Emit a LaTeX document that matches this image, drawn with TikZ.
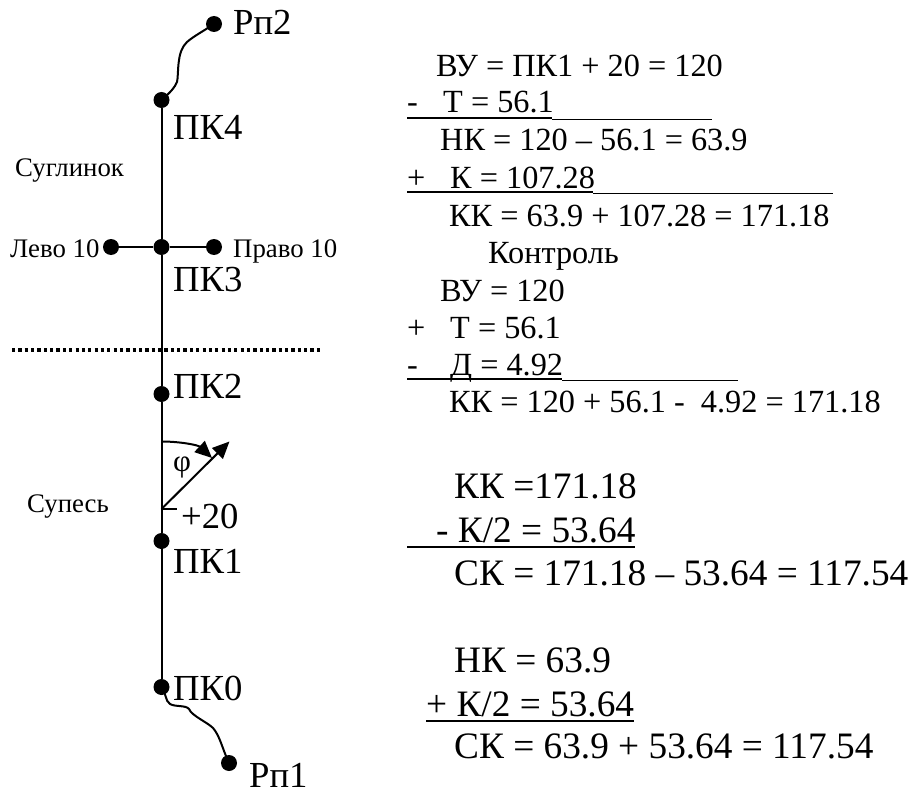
\documentclass[tikz,border=0pt]{standalone}
\usepackage{fontspec}
\setmainfont{Liberation Serif}
\usetikzlibrary{arrows.meta}
\tikzset{
  pt/.style={circle,fill=black,inner sep=0pt,minimum size=16pt},
  lbl/.style={anchor=base west,inner sep=0pt},
  big/.style={lbl,font=\fontsize{36.7}{37}\selectfont},
  mid/.style={lbl,font=\fontsize{32.3}{33}\selectfont},
  large/.style={lbl,font=\fontsize{37.3}{38}\selectfont},
  small/.style={lbl,font=\fontsize{26.8}{27}\selectfont},
  conn/.style={line width=2pt},
  heavy/.style={line width=2pt},
  thinrule/.style={line width=1pt},
  tipped/.style={line width=2pt,-{Triangle[length=17pt,width=15pt]}},
}
\begin{document}
\begin{tikzpicture}[x=1pt,y=-1pt]
\useasboundingbox (0,0) rectangle (911,789);
% points
\node[pt] (rp2) at (214,24) {};
\node[pt] (pk4) at (161.5,100) {};
\node[pt] (pk3) at (161.5,247) {};
\node[pt] (lv) at (111,247) {};
\node[pt] (pr) at (214,247) {};
\node[pt] (pk2) at (161.5,394) {};
\node[pt] (pk1) at (161.5,541) {};
\node[pt] (pk0) at (161.5,687) {};
\node[pt] (rp1) at (229,763) {};
\coordinate (vx) at (161.5,509);
\coordinate (tick) at (177,509);
\coordinate (dirn) at (229.5,441.5);
\coordinate (arcs) at (161.5,441.5);
\coordinate (arce) at (212,458);
\coordinate (dl) at (12,350);
\coordinate (dr) at (323,350);
% connectors
\draw[conn] (pk4) -- (pk3) -- (pk2) -- (pk1) -- (pk0);
\draw[conn] (lv) -- (pk3) -- (pr);
\draw[line width=3.2pt,dash pattern=on 3.2pt off 3.15pt] (dl) -- (dr);
\draw[conn] (pk4.center) .. controls (170,93) and (175,87) .. (177,82)
  .. controls (179,74) and (176,52) .. (187,42) .. controls (194,36) and (202,32) .. (rp2.center);
\draw[conn] (pk0.center) .. controls (166,692) and (165,701) .. (170,704)
  .. controls (175,707) and (186,705) .. (189,709)
  .. controls (192,716) and (207,722) .. (213,728)
  .. controls (220,736) and (222,748) .. (rp1.center);
\draw[tipped] (vx) -- (dirn);
\draw[conn] (vx) -- (tick);
\draw[tipped] (arcs) .. controls (180,441.5) and (198,445) .. (arce);
% left labels
\node[big] (trp2) at (233,35) {Рп2};
\node[big] (tpk4) at (173,140) {ПК4};
\node[small] (tsug) at (15,177) {Суглинок};
\node[small] (tlv) at (10,258) {Лево 10};
\node[small] (tpr) at (233,258) {Право 10};
\node[big] (tpk3) at (173,291) {ПК3};
\node[big] (tpk2) at (173,398) {ПК2};
\node[lbl,font=\fontsize{31}{31}\selectfont] (tphi) at (173,471) {φ};
\node[small] (tsup) at (27,512) {Супесь};
\node[big] (tp20) at (181,528) {+20};
\node[big] (tpk1) at (173,573) {ПК1};
\node[big] (tpk0) at (173,700) {ПК0};
\node[big] (trp1) at (249,787) {Рп1};
% right computations
\node[mid] (l1) at (436,77) {ВУ = ПК1 + 20 = 120};
\node[mid] (l2a) at (407,113) {-};
\node[mid] (l2) at (443,113) {Т = 56.1};
\draw[heavy] (407,118) -- (552,118);
\draw[thinrule] (552,119.5) -- (712,119.5);
\node[mid] (l3) at (440,151) {НК = 120 – 56.1 = 63.9};
\node[mid] (l4a) at (407,189) {+};
\node[mid] (l4) at (450,189) {К = 107.28};
\draw[heavy] (407,192.5) -- (593,192.5);
\draw[thinrule] (593,194) -- (833,194);
\node[mid] (l5) at (449,226) {КК = 63.9 + 107.28 = 171.18};
\node[mid] (l6) at (488,263) {Контроль};
\node[mid] (l7) at (440,301) {ВУ = 120};
\node[mid] (l8a) at (407,338) {+};
\node[mid] (l8) at (450,338) {Т = 56.1};
\node[mid] (l9a) at (407,375) {-};
\node[mid] (l9) at (450,375) {Д = 4.92};
\draw[heavy] (407,379) -- (562,379);
\draw[thinrule] (562,380.5) -- (738,380.5);
\node[mid] (l10) at (449,412) {КК = 120 + 56.1 -\ \ 4.92 = 171.18};
\node[large] (m1) at (454,498) {КК =171.18};
\node[large] (m2) at (436,542) {- К/2 = 53.64};
\draw[heavy] (407,547) -- (635,547);
\node[large] (m3) at (454,585) {СК = 171.18 – 53.64 = 117.54};
\node[large] (m4) at (454,672) {НК = 63.9};
\node[large] (m5) at (426,716) {+ К/2 = 53.64};
\draw[heavy] (426,721) -- (634,721);
\node[large] (m6) at (454,758) {СК = 63.9 + 53.64 = 117.54};
\end{tikzpicture}
\end{document}
